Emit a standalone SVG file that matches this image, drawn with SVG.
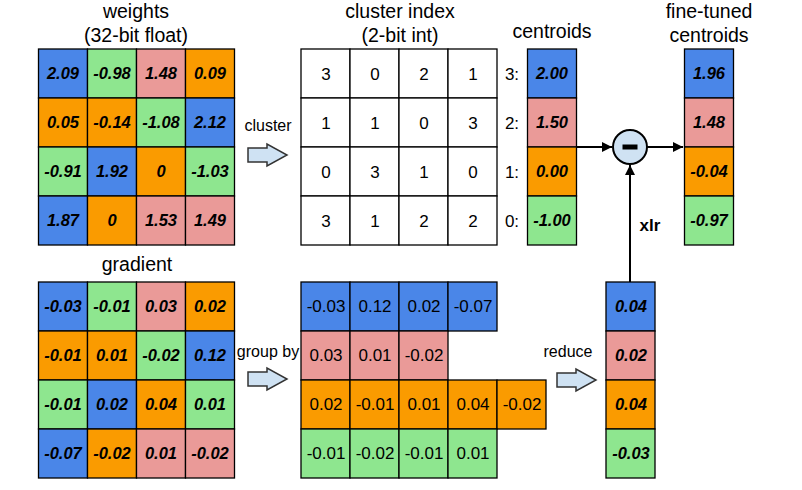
<svg xmlns="http://www.w3.org/2000/svg" width="802" height="490" viewBox="0 0 802 490">
<style>
text{font-family:"Liberation Sans",Arial,sans-serif;fill:#000}
.t{font-size:19.5px;text-anchor:middle}
.l{font-size:16px;text-anchor:middle}
.v{font-size:16.5px;font-weight:bold;font-style:italic;text-anchor:middle}
.n{font-size:17px;text-anchor:middle}
.c{stroke:#000;stroke-width:1.3}
.B{fill:#4a86e8}.G{fill:#8ee68f}.P{fill:#ea9a98}.O{fill:#fa9b00}.W{fill:#fff}
.ba{fill:#cfe2f3;stroke:#333;stroke-width:1.5}
.ln{stroke:#000;stroke-width:2;fill:none}
</style>
<defs>
<marker id="ah" viewBox="0 0 10 10" refX="10" refY="5" markerWidth="5" markerHeight="5" orient="auto" markerUnits="strokeWidth"><path d="M0,0L10,5L0,10z" fill="#000"/></marker>
<polygon id="barrow" points="0,-7 19,-7 19,-11 39,0 19,11 19,7 0,7" class="ba"/>
</defs>

<g id="weights">
<text class="t" x="136" y="18">weights</text>
<text class="t" x="136" y="42">(32-bit float)</text>
<rect class="c B" x="38.5" y="49" width="49" height="49"/><text class="v" x="63" y="79">2.09</text>
<rect class="c G" x="87.5" y="49" width="49" height="49"/><text class="v" x="112" y="79">-0.98</text>
<rect class="c P" x="136.5" y="49" width="49" height="49"/><text class="v" x="161" y="79">1.48</text>
<rect class="c O" x="185.5" y="49" width="49" height="49"/><text class="v" x="210" y="79">0.09</text>
<rect class="c O" x="38.5" y="98" width="49" height="49"/><text class="v" x="63" y="128">0.05</text>
<rect class="c O" x="87.5" y="98" width="49" height="49"/><text class="v" x="112" y="128">-0.14</text>
<rect class="c G" x="136.5" y="98" width="49" height="49"/><text class="v" x="161" y="128">-1.08</text>
<rect class="c B" x="185.5" y="98" width="49" height="49"/><text class="v" x="210" y="128">2.12</text>
<rect class="c G" x="38.5" y="147" width="49" height="49"/><text class="v" x="63" y="177">-0.91</text>
<rect class="c B" x="87.5" y="147" width="49" height="49"/><text class="v" x="112" y="177">1.92</text>
<rect class="c O" x="136.5" y="147" width="49" height="49"/><text class="v" x="161" y="177">0</text>
<rect class="c G" x="185.5" y="147" width="49" height="49"/><text class="v" x="210" y="177">-1.03</text>
<rect class="c B" x="38.5" y="196" width="49" height="49"/><text class="v" x="63" y="226">1.87</text>
<rect class="c O" x="87.5" y="196" width="49" height="49"/><text class="v" x="112" y="226">0</text>
<rect class="c P" x="136.5" y="196" width="49" height="49"/><text class="v" x="161" y="226">1.53</text>
<rect class="c P" x="185.5" y="196" width="49" height="49"/><text class="v" x="210" y="226">1.49</text>
</g>

<g id="cluster-step">
<text class="l" x="268" y="131">cluster</text>
<use href="#barrow" x="248" y="155"/>
</g>

<g id="cluster-index">
<text class="t" x="400" y="18">cluster index</text>
<text class="t" x="400" y="42">(2-bit int)</text>
<g class="c W">
<rect x="301" y="49" width="49" height="49"/><rect x="350" y="49" width="49" height="49"/><rect x="399" y="49" width="49" height="49"/><rect x="448" y="49" width="49" height="49"/>
<rect x="301" y="98" width="49" height="49"/><rect x="350" y="98" width="49" height="49"/><rect x="399" y="98" width="49" height="49"/><rect x="448" y="98" width="49" height="49"/>
<rect x="301" y="147" width="49" height="49"/><rect x="350" y="147" width="49" height="49"/><rect x="399" y="147" width="49" height="49"/><rect x="448" y="147" width="49" height="49"/>
<rect x="301" y="196" width="49" height="49"/><rect x="350" y="196" width="49" height="49"/><rect x="399" y="196" width="49" height="49"/><rect x="448" y="196" width="49" height="49"/>
</g>
<text class="n" x="326" y="80">3</text><text class="n" x="375" y="80">0</text><text class="n" x="424" y="80">2</text><text class="n" x="473" y="80">1</text>
<text class="n" x="326" y="129">1</text><text class="n" x="375" y="129">1</text><text class="n" x="424" y="129">0</text><text class="n" x="473" y="129">3</text>
<text class="n" x="326" y="178">0</text><text class="n" x="375" y="178">3</text><text class="n" x="424" y="178">1</text><text class="n" x="473" y="178">0</text>
<text class="n" x="326" y="227">3</text><text class="n" x="375" y="227">1</text><text class="n" x="424" y="227">2</text><text class="n" x="473" y="227">2</text>
</g>

<g id="centroids">
<text class="t" x="552" y="38">centroids</text>
<text class="n" x="512" y="80">3:</text>
<text class="n" x="512" y="129">2:</text>
<text class="n" x="512" y="178">1:</text>
<text class="n" x="512" y="227">0:</text>
<rect class="c B" x="527.5" y="49" width="49" height="49"/><text class="v" x="552" y="79">2.00</text>
<rect class="c P" x="527.5" y="98" width="49" height="49"/><text class="v" x="552" y="128">1.50</text>
<rect class="c O" x="527.5" y="147" width="49" height="49"/><text class="v" x="552" y="177">0.00</text>
<rect class="c G" x="527.5" y="196" width="49" height="49"/><text class="v" x="552" y="226">-1.00</text>
</g>

<g id="subtract">
<circle cx="630" cy="147" r="17" fill="#cfe2f3" stroke="#000" stroke-width="2"/>
<rect x="622.5" y="144.5" width="15" height="5" fill="#000"/>
</g>

<g id="fine-tuned">
<text class="t" x="709" y="18">fine-tuned</text>
<text class="t" x="709" y="42">centroids</text>
<rect class="c B" x="684.5" y="49" width="49" height="49"/><text class="v" x="709" y="79">1.96</text>
<rect class="c P" x="684.5" y="98" width="49" height="49"/><text class="v" x="709" y="128">1.48</text>
<rect class="c O" x="684.5" y="147" width="49" height="49"/><text class="v" x="709" y="177">-0.04</text>
<rect class="c G" x="684.5" y="196" width="49" height="49"/><text class="v" x="709" y="226">-0.97</text>
</g>

<g id="gradient">
<text class="t" x="137" y="271">gradient</text>
<rect class="c B" x="38.5" y="282" width="49" height="49"/><text class="v" x="63" y="312">-0.03</text>
<rect class="c G" x="87.5" y="282" width="49" height="49"/><text class="v" x="112" y="312">-0.01</text>
<rect class="c P" x="136.5" y="282" width="49" height="49"/><text class="v" x="161" y="312">0.03</text>
<rect class="c O" x="185.5" y="282" width="49" height="49"/><text class="v" x="210" y="312">0.02</text>
<rect class="c O" x="38.5" y="331" width="49" height="49"/><text class="v" x="63" y="361">-0.01</text>
<rect class="c O" x="87.5" y="331" width="49" height="49"/><text class="v" x="112" y="361">0.01</text>
<rect class="c G" x="136.5" y="331" width="49" height="49"/><text class="v" x="161" y="361">-0.02</text>
<rect class="c B" x="185.5" y="331" width="49" height="49"/><text class="v" x="210" y="361">0.12</text>
<rect class="c G" x="38.5" y="380" width="49" height="49"/><text class="v" x="63" y="410">-0.01</text>
<rect class="c B" x="87.5" y="380" width="49" height="49"/><text class="v" x="112" y="410">0.02</text>
<rect class="c O" x="136.5" y="380" width="49" height="49"/><text class="v" x="161" y="410">0.04</text>
<rect class="c G" x="185.5" y="380" width="49" height="49"/><text class="v" x="210" y="410">0.01</text>
<rect class="c B" x="38.5" y="429" width="49" height="49"/><text class="v" x="63" y="459">-0.07</text>
<rect class="c O" x="87.5" y="429" width="49" height="49"/><text class="v" x="112" y="459">-0.02</text>
<rect class="c P" x="136.5" y="429" width="49" height="49"/><text class="v" x="161" y="459">0.01</text>
<rect class="c P" x="185.5" y="429" width="49" height="49"/><text class="v" x="210" y="459">-0.02</text>
</g>

<g id="group-by-step">
<text class="l" x="268" y="357">group by</text>
<use href="#barrow" x="248" y="379"/>
</g>

<g id="grouped">
<rect class="c B" x="301" y="282" width="49" height="49"/><text class="n" x="326" y="312">-0.03</text>
<rect class="c B" x="350" y="282" width="49" height="49"/><text class="n" x="375" y="312">0.12</text>
<rect class="c B" x="399" y="282" width="49" height="49"/><text class="n" x="424" y="312">0.02</text>
<rect class="c B" x="448" y="282" width="49" height="49"/><text class="n" x="473" y="312">-0.07</text>
<rect class="c P" x="301" y="331" width="49" height="49"/><text class="n" x="326" y="361">0.03</text>
<rect class="c P" x="350" y="331" width="49" height="49"/><text class="n" x="375" y="361">0.01</text>
<rect class="c P" x="399" y="331" width="49" height="49"/><text class="n" x="424" y="361">-0.02</text>
<rect class="c O" x="301" y="380" width="49" height="49"/><text class="n" x="326" y="410">0.02</text>
<rect class="c O" x="350" y="380" width="49" height="49"/><text class="n" x="375" y="410">-0.01</text>
<rect class="c O" x="399" y="380" width="49" height="49"/><text class="n" x="424" y="410">0.01</text>
<rect class="c O" x="448" y="380" width="49" height="49"/><text class="n" x="473" y="410">0.04</text>
<rect class="c O" x="497" y="380" width="49" height="49"/><text class="n" x="522" y="410">-0.02</text>
<rect class="c G" x="301" y="429" width="49" height="49"/><text class="n" x="326" y="459">-0.01</text>
<rect class="c G" x="350" y="429" width="49" height="49"/><text class="n" x="375" y="459">-0.02</text>
<rect class="c G" x="399" y="429" width="49" height="49"/><text class="n" x="424" y="459">-0.01</text>
<rect class="c G" x="448" y="429" width="49" height="49"/><text class="n" x="473" y="459">0.01</text>
</g>

<g id="reduce-step">
<text class="l" x="568" y="357">reduce</text>
<use href="#barrow" x="557" y="380"/>
</g>

<g id="reduced">
<rect class="c B" x="606" y="282" width="49" height="49"/><text class="v" x="631" y="312">0.04</text>
<rect class="c P" x="606" y="331" width="49" height="49"/><text class="v" x="631" y="361">0.02</text>
<rect class="c O" x="606" y="380" width="49" height="49"/><text class="v" x="631" y="410">0.04</text>
<rect class="c G" x="606" y="429" width="49" height="49"/><text class="v" x="631" y="459">-0.03</text>
</g>

<g id="connectors">
<line class="ln" x1="577" y1="147" x2="612" y2="147" marker-end="url(#ah)"/>
<line class="ln" x1="647" y1="147" x2="683" y2="147" marker-end="url(#ah)"/>
<line class="ln" x1="630" y1="282" x2="630" y2="165" marker-end="url(#ah)"/>
<text x="650" y="231" style="font-size:17px;font-weight:bold;text-anchor:middle">xlr</text>
</g>
</svg>
